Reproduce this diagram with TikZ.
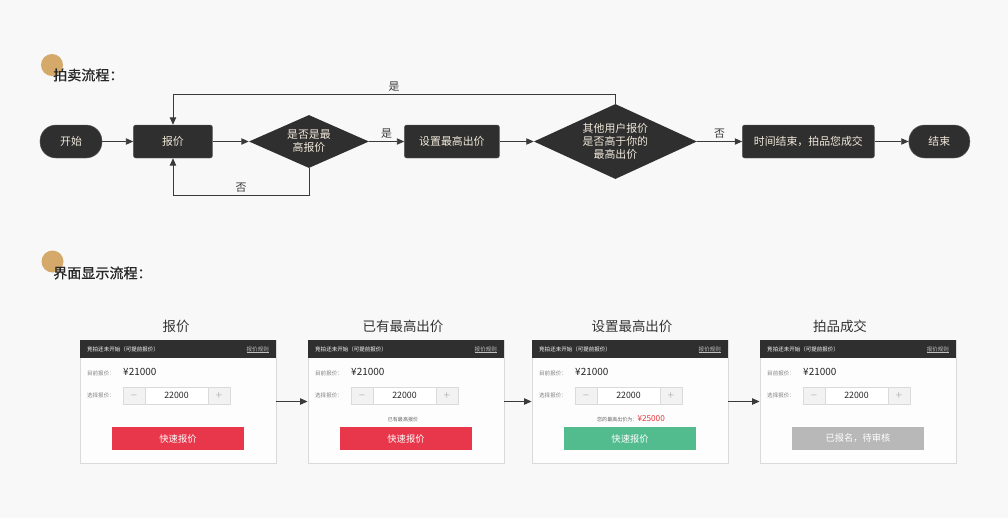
\documentclass[tikz,border=0pt]{standalone}
\usepackage{fontspec}
\setmainfont{Noto Sans CJK SC}
\newfontfamily\secfont[FakeBold=0.7]{Noto Sans CJK SC}
\usetikzlibrary{arrows.meta,positioning,shapes.geometric}
\definecolor{bgc}{HTML}{F8F8F8}
\definecolor{nodec}{HTML}{2F2F2F}
\definecolor{nodetxt}{HTML}{F0E8DA}
\definecolor{linec}{HTML}{3A3A3A}
\definecolor{tanc}{HTML}{D4A96A}
\definecolor{cardline}{HTML}{DADADA}
\definecolor{cardc}{HTML}{FDFDFD}
\definecolor{btnred}{HTML}{E8374A}
\definecolor{btngreen}{HTML}{52BC8F}
\definecolor{btngray}{HTML}{B8B8B8}
\definecolor{pricered}{HTML}{E8333C}
\tikzset{
  term/.style   = {rectangle, rounded corners=0.48cm, fill=nodec, draw=nodec!80,
                   text=nodetxt, minimum width=1.86cm, minimum height=0.99cm,
                   align=center, font=\fontsize{9.3}{11}\selectfont, inner sep=2pt},
  box/.style    = {term, rounded corners=2pt, minimum width=2.37cm},
  dec/.style    = {diamond, fill=nodec, text=nodetxt, inner sep=0pt,
                   align=center, font=\fontsize{9.3}{11}\selectfont},
  ar/.style     = {-{Triangle[length=2.2mm,width=1.9mm]}, draw=linec, line width=0.7pt},
  lab/.style    = {font=\fontsize{9.3}{11}\selectfont, text=linec, inner sep=2pt},
  dot/.style    = {circle, fill=tanc, minimum size=0.66cm, inner sep=0pt},
  sec/.style    = {font=\secfont\fontsize{12}{14}\selectfont, text=black!85, inner sep=0pt},
  card/.style   = {rectangle, draw=cardline, fill=cardc, line width=0.8pt,
                   minimum width=5.88cm, minimum height=3.69cm, inner sep=0pt},
  ctitle/.style = {font=\fontsize{11.5}{13}\selectfont, text=black!80},
  chead/.style  = {rectangle, fill=nodec, minimum width=5.88cm, minimum height=0.54cm, inner sep=0pt},
  tiny/.style   = {font=\fontsize{4.7}{5.5}\selectfont, inner sep=0pt},
  stepbox/.style= {rectangle, draw=cardline, fill=black!5, text=black!45, minimum width=0.66cm,
                   minimum height=0.51cm, inner sep=0pt, font=\fontsize{7.5}{8}\selectfont},
  valbox/.style = {stepbox, fill=white, text=black!85, minimum width=1.89cm},
  btn/.style    = {rectangle, minimum width=3.96cm, minimum height=0.69cm, inner sep=0pt,
                   text=white, font=\fontsize{7.9}{9}\selectfont}
}
\begin{document}
\begin{tikzpicture}[x=0.03cm, y=-0.03cm]
  \fill[bgc] (0,0) rectangle (1008,518);
  \useasboundingbox (0,0) rectangle (1008,518);

  % auction flow
  \node[dot] (dot1) at (52,65) {};
  \node[sec, anchor=west] (sec1) at (53,75) {拍卖流程：};
  \node[term] (start) at (71,141.5) {开始};
  \node[box, right=0.93cm of start] (bid) {报价};
  \node[dec, minimum width=3.6cm, minimum height=1.59cm, aspect=2.26, right=1.08cm of bid] (best) {是否是最\\高报价};
  \node[box, minimum width=2.85cm, right=1.05cm of best] (setmax) {设置最高出价};
  \node[dec, minimum width=4.89cm, minimum height=2.25cm, aspect=2.17, right=1.02cm of setmax] (other) {其他用户报价\\是否高于你的\\最高出价};
  \node[box, minimum width=3.96cm, right=1.35cm of other] (deal) {时间结束，拍品您成交};
  \node[term, minimum width=1.83cm, right=1.02cm of deal] (finish) {结束};
  \coordinate (top) at (0,94);
  \coordinate (low) at (0,195);
  \draw[ar] (start) -- (bid);
  \draw[ar] (bid) -- (best);
  \draw[ar] (best) -- node[lab, above] {是} (setmax);
  \draw[ar] (setmax) -- (other);
  \draw[ar] (other) -- node[lab, above] {否} (deal);
  \draw[ar] (deal) -- (finish);
  \draw[ar] (other.north) -- (other.north |- top) -- node[lab, above] {是} (bid.north |- top) -- (bid.north);
  \draw[ar] (best.south) -- (best.south |- low) -- node[lab, above] {否} (bid.south |- low) -- (bid.south);

  % screens
  \node[dot] (dot2) at (52.5,261.5) {};
  \node[sec, anchor=west] (sec2) at (53,273) {界面显示流程：};
  \foreach \i/\cx/\tx/\ttl/\bc/\bt in {1/178/176/报价/btnred/快速报价,
      2/406/403/已有最高出价/btnred/快速报价,
      3/630/632/设置最高出价/btngreen/快速报价,
      4/858/840/拍品成交/btngray/已报名，待审核} {
    \pgfmathsetmacro\L{\cx-98}
    \node[card] (card\i) at (\cx,401.5) {};
    \node[ctitle] (title\i) at (\tx,326) {\ttl};
    \node[chead, anchor=north] (head\i) at (card\i.north) {};
    \node[tiny, text=white, anchor=west] (htxt\i) at (\L+7,349) {竞拍还未开始（可提前报价）};
    \node[tiny, text=black!25, anchor=east] (rule\i) at (\L+189,349) {报价规则};
    \draw[black!25, line width=0.3pt] (rule\i.south west) -- (rule\i.south east);
    \node[tiny, text=black!50, anchor=west] (cur\i) at (\L+7,373) {目前报价：};
    \node[anchor=west, inner sep=0pt, text=black!85, font=\fontsize{8.5}{9}\selectfont] (price\i) at (\L+43,372) {¥21000};
    \node[tiny, text=black!50, anchor=west] (pick\i) at (\L+7,395) {选择报价：};
    \node[stepbox] (minus\i) at (\L+54,395.5) {$-$};
    \node[valbox] (val\i) at (\L+96.5,395.5) {22000};
    \node[stepbox] (plus\i) at (\L+139,395.5) {$+$};
    \node[btn, fill=\bc] (btn\i) at (\L+98,438.5) {\bt};
  }
  \node[tiny, text=black!60, font=\fontsize{4.3}{5}\selectfont] (note2) at (403,420) {已有最高报价};
  \node[tiny, text=black!60, font=\fontsize{4.3}{5}\selectfont] (note3) at (631,419) {您的最高出价为：\textcolor{pricered}{\fontsize{7}{8}\selectfont ¥25000}};
  \draw[ar] (card1) -- (card2);
  \draw[ar] (card2) -- (card3);
  \draw[ar] (card3) -- (card4);
\end{tikzpicture}
\end{document}
